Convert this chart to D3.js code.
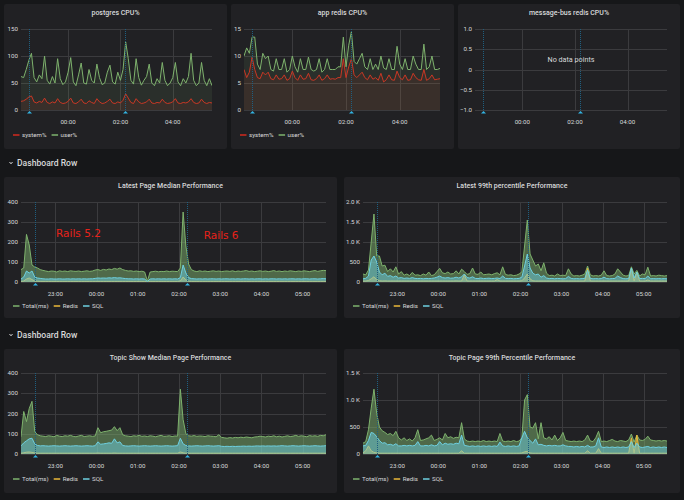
<!DOCTYPE html>
<html>
<head>
<meta charset="utf-8">
<script src="https://cdnjs.cloudflare.com/ajax/libs/d3/7.8.5/d3.min.js"></script>
<style>
  body { margin: 0; background: #161719; }
  svg { display: block; font-family: Roboto, "Open Sans", sans-serif; }
</style>
</head>
<body>
<script>
// time setup
var cpuStart = "2019-08-01T22:12:00Z", cpuStep = 6;
var perfStart = "2019-08-01T22:10:00Z", perfStep = 4;
var cpuDomain = ["2019-08-01T22:12:00Z", "2019-08-02T05:30:00Z"];
var perfDomain = ["2019-08-01T22:10:00Z", "2019-08-02T05:34:00Z"];
var annotations = ["2019-08-01T22:30:00Z", "2019-08-02T02:11:00Z"];

var pgTicks = [0, 50, 100, 150];
var redisTicks = [0, 5, 10, 15];
var busTicks = [-1, -0.5, 0, 0.5, 1];
var medTicks = [0, 100, 200, 300, 400];
var lat99Ticks = [0, 500, 1000, 1500, 2000];
var top99Ticks = [0, 500, 1000, 1500];

var railsLabels = ["Rails 5.2", "Rails 6"];
var railsTimes = ["2019-08-01T23:01:00Z", "2019-08-02T02:36:00Z"];
var railsValues = [226, 213];

// postgres CPU%
var pgSystem = [16, 17, 20, 24, 26, 15, 13, 16, 14, 22,
  14, 12, 15, 13, 21, 14, 12, 13, 16, 22,
  13, 12, 15, 20, 13, 12, 17, 14, 12, 21,
  15, 12, 13, 16, 20, 13, 12, 15, 13, 18,
  30, 22, 14, 12, 21, 15, 12, 13, 15, 20,
  13, 12, 14, 13, 20, 14, 12, 13, 15, 21,
  13, 12, 14, 13, 15, 21, 14, 12, 13, 20,
  14, 12, 14, 13];
var pgUser = [62, 60, 75, 92, 105, 60, 52, 65, 58, 100,
  55, 48, 62, 50, 95, 58, 47, 52, 70, 97,
  52, 45, 65, 87, 50, 48, 75, 55, 50, 85,
  60, 47, 50, 70, 83, 52, 48, 70, 55, 75,
  126, 95, 55, 48, 95, 60, 46, 55, 62, 85,
  50, 45, 58, 50, 88, 55, 45, 50, 60, 88,
  52, 45, 58, 50, 62, 105, 55, 45, 50, 88,
  55, 45, 58, 45];

// app redis CPU%
var redisSystem = [7.5, 6, 7, 9.8, 7.5, 6, 5.8, 7, 6.5, 7,
  5.8, 5.6, 6.5, 5.7, 5.8, 6.5, 5.5, 5.8, 7.2, 6,
  5.5, 6.5, 5.7, 5.8, 6.8, 5.6, 5.5, 5.8, 6.5, 5.5,
  5.8, 6.5, 5.7, 5.8, 5.7, 6, 6, 9.5, 6, 8,
  9.5, 6.5, 6, 6.5, 7, 6, 5.6, 6.5, 5.7, 6,
  5.5, 6.8, 5.2, 5.6, 6.5, 5.6, 5.5, 7.2, 6, 5.6,
  6.5, 5.5, 5.6, 6.8, 6, 5.6, 5.5, 7.5, 5.5, 5.8,
  6.5, 5.6, 5.7, 5.8];
var redisUser = [10, 11.5, 10.5, 13.5, 13.5, 8.5, 7.5, 10.5, 9.5, 10,
  7.5, 7.2, 9.5, 7.5, 7.5, 9.5, 7, 7.5, 10, 8,
  7, 9.5, 7.5, 7.5, 9.8, 7.5, 7.2, 7.5, 9.5, 7,
  7.5, 9.5, 7.5, 7.5, 7.5, 8, 8, 13.5, 8, 12,
  14.5, 9, 8.5, 9.5, 10.5, 8, 7.5, 9.5, 7.5, 8.5,
  7.5, 10, 7.8, 7.5, 9.5, 7.5, 7.5, 11.8, 8.5, 7.5,
  9.5, 7.5, 7.5, 10, 8.5, 7.5, 7.5, 12.2, 7.5, 8,
  10, 7.5, 7.5, 7.7];

// Latest Page Median Performance
var latestMedTotal = [62, 70, 238, 185, 85, 75, 70, 62, 58, 55,
  52, 55, 54, 50, 56, 53, 55, 52, 56, 54,
  53, 55, 52, 54, 56, 53, 55, 60, 62, 58,
  63, 60, 65, 62, 68, 64, 70, 62, 58, 55,
  56, 53, 55, 52, 54, 50, 5, 50, 52, 54,
  51, 53, 52, 55, 52, 54, 53, 52, 70, 350,
  180, 90, 62, 55, 52, 56, 53, 55, 52, 54,
  56, 53, 55, 52, 54, 55, 53, 56, 52, 55,
  53, 55, 57, 53, 55, 52, 54, 56, 53, 55,
  52, 54, 57, 53, 55, 52, 55, 53, 56, 54,
  52, 55, 53, 56, 54, 52, 55, 57, 53, 56,
  58, 57];
var latestMedRedis = [3, 5, 15, 20, 12, 5, 4, 3, 3, 3,
  3, 3, 3, 3, 3, 3, 3, 3, 3, 3,
  3, 3, 3, 3, 3, 3, 3, 3, 3, 3,
  3, 3, 3, 3, 3, 3, 3, 3, 3, 3,
  3, 3, 3, 3, 3, 3, 0, 3, 3, 3,
  3, 3, 3, 3, 3, 3, 3, 3, 5, 25,
  10, 4, 3, 3, 3, 3, 3, 3, 3, 3,
  3, 3, 3, 3, 3, 3, 3, 3, 3, 3,
  3, 3, 3, 3, 3, 3, 3, 3, 3, 3,
  3, 3, 3, 3, 3, 3, 3, 3, 3, 3,
  3, 3, 3, 3, 3, 3, 3, 3, 3, 3,
  3, 3];
var latestMedSql = [15, 25, 55, 45, 55, 25, 20, 18, 16, 15,
  15, 16, 15, 15, 16, 15, 15, 16, 15, 16,
  15, 16, 15, 16, 15, 16, 16, 18, 20, 19,
  20, 19, 21, 20, 22, 20, 21, 19, 17, 16,
  16, 15, 16, 15, 16, 15, 2, 15, 16, 15,
  16, 15, 16, 15, 16, 15, 16, 15, 22, 85,
  45, 22, 17, 16, 15, 16, 15, 16, 15, 16,
  16, 15, 16, 15, 16, 16, 15, 16, 15, 16,
  15, 16, 16, 15, 16, 15, 16, 16, 15, 16,
  15, 16, 16, 15, 16, 15, 16, 15, 16, 16,
  15, 16, 15, 16, 16, 15, 16, 16, 15, 16,
  17, 16];

// Latest 99th percentile Performance
var latest99Total = [200, 180, 300, 1000, 1700, 650, 650, 400, 420, 260,
  330, 250, 380, 200, 260, 170, 200, 160, 240, 170,
  180, 160, 200, 170, 250, 160, 180, 260, 340, 230,
  210, 250, 200, 210, 280, 200, 320, 260, 190, 210,
  350, 200, 190, 250, 180, 190, 200, 180, 210, 230,
  180, 380, 190, 170, 180, 160, 170, 200, 250, 900,
  1550, 700, 550, 400, 450, 280, 480, 220, 160, 170,
  150, 200, 160, 170, 160, 330, 200, 150, 160, 150,
  170, 200, 400, 180, 150, 160, 150, 170, 280, 160,
  150, 160, 200, 330, 250, 170, 150, 160, 380, 200,
  290, 150, 200, 180, 370, 150, 160, 150, 170, 160,
  150, 160];
var latest99Redis = [25, 25, 35, 80, 130, 60, 30, 25, 28, 25,
  25, 25, 25, 25, 25, 25, 25, 25, 25, 25,
  25, 25, 25, 25, 25, 25, 25, 25, 25, 25,
  25, 25, 25, 25, 28, 25, 25, 180, 25, 25,
  25, 25, 25, 25, 25, 25, 25, 25, 25, 60,
  25, 25, 25, 25, 25, 25, 25, 25, 30, 100,
  200, 80, 30, 25, 25, 25, 25, 25, 25, 25,
  25, 25, 25, 25, 25, 25, 25, 25, 25, 25,
  25, 25, 340, 25, 25, 25, 25, 25, 25, 25,
  25, 25, 25, 25, 25, 25, 25, 25, 330, 25,
  250, 25, 25, 25, 50, 25, 25, 25, 25, 25,
  25, 25];
var latest99Sql = [80, 90, 150, 550, 650, 500, 250, 180, 220, 140,
  160, 120, 150, 100, 110, 90, 100, 90, 110, 90,
  85, 90, 80, 90, 85, 90, 100, 120, 150, 110,
  100, 110, 95, 100, 120, 100, 130, 200, 110, 100,
  130, 90, 85, 100, 85, 90, 95, 85, 90, 100,
  85, 150, 90, 85, 90, 80, 85, 90, 120, 400,
  700, 350, 220, 180, 200, 120, 160, 100, 85, 90,
  80, 90, 85, 80, 85, 140, 90, 80, 85, 80,
  85, 90, 300, 90, 80, 85, 80, 85, 120, 85,
  80, 85, 90, 150, 110, 85, 80, 85, 350, 100,
  250, 85, 90, 85, 150, 80, 85, 80, 85, 80,
  85, 80];

// Topic Show Median Page Performance
var topicMedTotal = [85, 210, 160, 225, 260, 110, 95, 90, 88, 86,
  90, 88, 85, 92, 88, 86, 90, 88, 92, 87,
  85, 89, 92, 86, 88, 90, 87, 89, 130, 105,
  110, 112, 115, 118, 135, 115, 130, 95, 90, 88,
  86, 90, 88, 92, 87, 89, 86, 90, 88, 85,
  89, 92, 87, 88, 90, 86, 89, 88, 320, 170,
  100, 90, 88, 91, 87, 89, 88, 86, 90, 88,
  87, 85, 95, 82, 80, 78, 81, 79, 82, 80,
  83, 81, 84, 82, 80, 84, 85, 88, 86, 84,
  88, 86, 90, 85, 88, 84, 87, 90, 86, 88,
  92, 87, 90, 88, 85, 91, 88, 90, 87, 92,
  90, 95];
var topicMedRedis = [4, 6, 9, 10, 8, 5, 4, 4, 4, 4,
  4, 4, 4, 4, 4, 4, 4, 4, 4, 4,
  4, 4, 4, 4, 4, 4, 4, 4, 5, 4,
  4, 4, 4, 4, 5, 4, 4, 4, 4, 4,
  4, 4, 4, 4, 4, 4, 4, 4, 4, 4,
  4, 4, 4, 4, 4, 4, 4, 4, 10, 6,
  4, 4, 4, 4, 4, 4, 4, 4, 4, 4,
  4, 4, 4, 4, 4, 4, 4, 4, 4, 4,
  4, 4, 4, 4, 4, 4, 4, 4, 4, 4,
  4, 4, 4, 4, 4, 4, 4, 4, 4, 4,
  4, 4, 4, 4, 4, 4, 4, 4, 4, 4,
  4, 4];
var topicMedSql = [40, 55, 65, 75, 78, 50, 42, 40, 41, 40,
  39, 40, 41, 40, 39, 40, 41, 40, 39, 40,
  41, 40, 39, 40, 41, 40, 39, 41, 60, 48,
  50, 52, 55, 53, 75, 55, 60, 42, 40, 39,
  40, 41, 40, 39, 40, 41, 40, 39, 40, 41,
  40, 39, 40, 41, 40, 39, 40, 41, 78, 50,
  42, 40, 39, 40, 41, 40, 39, 40, 41, 40,
  39, 40, 41, 38, 37, 38, 37, 38, 37, 38,
  38, 39, 38, 39, 38, 39, 40, 39, 40, 39,
  40, 39, 40, 39, 40, 41, 40, 39, 40, 41,
  40, 39, 40, 41, 40, 39, 40, 41, 40, 39,
  40, 41];

// Topic Page 99th Percentile Performance
var topic99Total = [200, 230, 450, 850, 1200, 750, 500, 430, 400, 360,
  380, 340, 420, 300, 260, 300, 250, 280, 240, 300,
  450, 250, 260, 280, 300, 350, 250, 270, 300, 260,
  380, 300, 320, 290, 310, 300, 580, 280, 240, 230,
  240, 230, 240, 230, 250, 230, 240, 230, 240, 230,
  380, 240, 230, 240, 230, 250, 230, 240, 300, 1000,
  1100, 500, 480, 580, 280, 580, 300, 280, 320, 260,
  350, 250, 300, 400, 250, 240, 230, 240, 230, 240,
  230, 260, 350, 240, 230, 300, 420, 230, 240, 230,
  250, 270, 240, 230, 250, 240, 230, 260, 370, 220,
  350, 260, 250, 270, 330, 260, 250, 240, 250, 240,
  250, 240];
var topic99Redis = [20, 60, 150, 60, 30, 20, 15, 15, 15, 15,
  15, 15, 15, 15, 15, 15, 15, 15, 15, 15,
  15, 15, 15, 15, 15, 15, 15, 15, 15, 15,
  15, 15, 15, 15, 15, 15, 60, 15, 15, 15,
  15, 15, 15, 15, 15, 15, 15, 15, 15, 15,
  15, 15, 15, 15, 15, 15, 15, 15, 20, 40,
  50, 20, 15, 15, 15, 15, 15, 15, 15, 15,
  15, 15, 15, 15, 15, 15, 15, 15, 15, 15,
  15, 15, 60, 15, 15, 15, 100, 15, 15, 15,
  15, 15, 15, 15, 15, 15, 15, 15, 300, 15,
  350, 15, 15, 15, 15, 15, 15, 15, 15, 15,
  15, 15];
var topic99Sql = [150, 160, 250, 400, 380, 320, 250, 200, 210, 170,
  180, 160, 190, 150, 150, 160, 150, 160, 150, 160,
  230, 150, 150, 160, 150, 170, 150, 160, 230, 170,
  200, 180, 190, 180, 200, 190, 350, 160, 150, 140,
  150, 140, 150, 140, 150, 140, 150, 140, 150, 140,
  220, 150, 140, 150, 140, 150, 140, 150, 300, 420,
  300, 250, 200, 280, 170, 180, 160, 150, 160, 150,
  160, 150, 150, 170, 150, 140, 140, 130, 140, 130,
  140, 130, 160, 130, 130, 150, 300, 130, 120, 130,
  120, 130, 120, 130, 120, 130, 120, 130, 230, 120,
  200, 130, 120, 130, 140, 120, 130, 120, 130, 120,
  130, 120];

var GREEN = "#7EB26D", YELLOW = "#EAB839", CYAN = "#6ED0E0", RED = "#D22A1E";
var TEXT = "#d8d9da";

var svg = d3.select("body").append("svg")
  .attr("width", 684)
  .attr("height", 500);

svg.append("rect").attr("width", 684).attr("height", 500).attr("fill", "#161719");

function toPoints(start, step, values) {
  var t0 = new Date(start).getTime();
  return values.map(function (v, i) {
    return { t: new Date(t0 + i * step * 60000), v: v };
  });
}

var clipId = 0;

function drawPanel(p) {
  var g = svg.append("g");
  g.append("rect")
    .attr("x", p.x).attr("y", p.y)
    .attr("width", p.w).attr("height", p.h)
    .attr("rx", 2)
    .attr("fill", "#212124");

  g.append("text")
    .attr("x", p.x + p.w / 2)
    .attr("y", p.y + 8.5)
    .attr("text-anchor", "middle")
    .attr("dominant-baseline", "central")
    .style("font-size", "7px")
    .style("font-weight", 500)
    .style("fill", TEXT)
    .text(p.title);

  var x = d3.scaleUtc()
    .domain(p.domain.map(function (d) { return new Date(d); }))
    .range([p.l, p.r]);
  var y = d3.scaleLinear()
    .domain([p.yTicks[0], p.yTicks[p.yTicks.length - 1]])
    .range([p.b, p.t]);
  var xTicks = x.ticks(d3.utcHour.every(p.hours));

  // grid
  g.selectAll(null).data(p.yTicks).enter().append("line")
    .attr("x1", p.l).attr("x2", p.r)
    .attr("y1", function (d) { return Math.round(y(d)) + 0.5; })
    .attr("y2", function (d) { return Math.round(y(d)) + 0.5; })
    .attr("stroke", "#3b3b3e").attr("stroke-width", 1);
  g.selectAll(null).data(xTicks).enter().append("line")
    .attr("x1", function (d) { return Math.round(x(d)) + 0.5; })
    .attr("x2", function (d) { return Math.round(x(d)) + 0.5; })
    .attr("y1", p.t).attr("y2", p.b)
    .attr("stroke", "#3b3b3e").attr("stroke-width", 1);

  g.selectAll(null).data(p.yTicks).enter().append("text")
    .attr("x", p.l - 3)
    .attr("y", function (d) { return y(d); })
    .attr("text-anchor", "end")
    .attr("dominant-baseline", "central")
    .style("font-size", "6.2px")
    .style("fill", TEXT)
    .text(p.yFmt);
  g.selectAll(null).data(xTicks).enter().append("text")
    .attr("x", function (d) { return x(d); })
    .attr("y", p.b + 11.5)
    .attr("text-anchor", "middle")
    .attr("dominant-baseline", "central")
    .style("font-size", "6.2px")
    .style("fill", TEXT)
    .text(d3.utcFormat("%H:%M"));

  // series
  var cid = "clip" + (clipId++);
  g.append("clipPath").attr("id", cid).append("rect")
    .attr("x", p.l).attr("y", p.t).attr("width", p.r - p.l).attr("height", p.b - p.t);
  var plot = g.append("g").attr("clip-path", "url(#" + cid + ")");
  var area = d3.area()
    .x(function (d) { return x(d.t); })
    .y0(y(Math.max(0, p.yTicks[0])))
    .y1(function (d) { return y(d.v); });
  var line = d3.line()
    .x(function (d) { return x(d.t); })
    .y(function (d) { return y(d.v); });
  p.series.forEach(function (s) {
    var pts = toPoints(p.start, p.step, s.values);
    plot.append("path").attr("d", area(pts))
      .attr("fill", s.color).attr("fill-opacity", p.fill);
    plot.append("path").attr("d", line(pts))
      .attr("fill", "none").attr("stroke", s.color).attr("stroke-width", 1);
  });

  // annotations
  annotations.forEach(function (a) {
    var ax = Math.round(x(new Date(a))) + 0.5;
    g.append("line")
      .attr("x1", ax).attr("x2", ax)
      .attr("y1", p.t).attr("y2", p.b)
      .attr("stroke", "#1f5f80").attr("stroke-width", 1)
      .attr("stroke-dasharray", "1,1");
    g.append("path")
      .attr("d", "M" + (ax - 2.5) + "," + (p.b + 3.5) + "L" + ax + "," + (p.b + 1) + "L" + (ax + 2.5) + "," + (p.b + 3.5) + "Z")
      .attr("fill", "#33B5E5");
  });

  if (p.series.length === 0) {
    g.append("text")
      .attr("x", (p.l + p.r) / 2)
      .attr("y", p.t + 30)
      .attr("text-anchor", "middle")
      .attr("dominant-baseline", "central")
      .style("font-size", "7.2px")
      .style("fill", TEXT)
      .text("No data points");
  }

  // legend
  var cx = p.x + 9;
  p.series.forEach(function (s) {
    g.append("rect")
      .attr("x", cx).attr("y", p.legendY - 0.75)
      .attr("width", 6.5).attr("height", 1.5)
      .attr("fill", s.color);
    var t = g.append("text")
      .attr("x", cx + 9).attr("y", p.legendY)
      .attr("dominant-baseline", "central")
      .style("font-size", "6.2px")
      .style("fill", TEXT)
      .text(s.name);
    cx += 9 + t.node().getComputedTextLength() + 5;
  });

  return { x: x, y: y, g: g };
}

function rowHeader(yc) {
  svg.append("path")
    .attr("d", "M9.5," + (yc - 1) + "L11,"  + (yc + 0.8) + "L12.5," + (yc - 1))
    .attr("fill", "none").attr("stroke", TEXT).attr("stroke-width", 1);
  svg.append("text")
    .attr("x", 17).attr("y", yc)
    .attr("dominant-baseline", "central")
    .style("font-size", "8.6px")
    .style("font-weight", 500)
    .style("fill", TEXT)
    .text("Dashboard Row");
}

function fmtPlain(d) { return d; }
function fmtOne(d) { return d === 0 ? "0" : d3.format(".1f")(d); }
function fmtK(d) { return d >= 1000 ? d3.format(".1f")(d / 1000) + " K" : d; }

var cpuBase = { domain: cpuDomain, start: cpuStart, step: cpuStep, hours: 2, fill: 0.1, t: 29, b: 110, y: 4, h: 145, legendY: 135 };

drawPanel(Object.assign({}, cpuBase, {
  x: 4, w: 223, l: 21, r: 212, title: "postgres CPU%",
  yTicks: pgTicks, yFmt: fmtPlain,
  series: [
    { name: "system%", color: RED, values: pgSystem },
    { name: "user%", color: GREEN, values: pgUser }
  ]
}));
drawPanel(Object.assign({}, cpuBase, {
  x: 231, w: 223, l: 244, r: 440, title: "app redis CPU%",
  yTicks: redisTicks, yFmt: fmtPlain,
  series: [
    { name: "system%", color: RED, values: redisSystem },
    { name: "user%", color: GREEN, values: redisUser }
  ]
}));
drawPanel(Object.assign({}, cpuBase, {
  x: 458, w: 222, l: 475, r: 667, title: "message-bus redis CPU%",
  yTicks: busTicks, yFmt: fmtOne,
  series: []
}));

rowHeader(163);

var perfBase = { domain: perfDomain, start: perfStart, step: perfStep, hours: 1, fill: 0.5 };

var med = drawPanel(Object.assign({}, perfBase, {
  x: 4, y: 177, w: 333, h: 141, l: 21, r: 326, t: 202, b: 282, legendY: 306,
  title: "Latest Page Median Performance",
  yTicks: medTicks, yFmt: fmtPlain,
  series: [
    { name: "Total(ms)", color: GREEN, values: latestMedTotal },
    { name: "Redis", color: YELLOW, values: latestMedRedis },
    { name: "SQL", color: CYAN, values: latestMedSql }
  ]
}));
railsLabels.forEach(function (label, i) {
  med.g.append("text")
    .attr("x", med.x(new Date(railsTimes[i])))
    .attr("y", med.y(railsValues[i]))
    .style("font-family", "'DejaVu Sans', sans-serif")
    .style("font-size", "10.5px")
    .style("fill", "#e8221a")
    .text(label);
});

drawPanel(Object.assign({}, perfBase, {
  x: 344, y: 177, w: 336, h: 141, l: 363, r: 667, t: 202, b: 282, legendY: 306,
  title: "Latest 99th percentile Performance",
  yTicks: lat99Ticks, yFmt: fmtK,
  series: [
    { name: "Total(ms)", color: GREEN, values: latest99Total },
    { name: "Redis", color: YELLOW, values: latest99Redis },
    { name: "SQL", color: CYAN, values: latest99Sql }
  ]
}));

rowHeader(335);

drawPanel(Object.assign({}, perfBase, {
  x: 4, y: 349, w: 333, h: 144, l: 21, r: 326, t: 373, b: 454, legendY: 479,
  title: "Topic Show Median Page Performance",
  yTicks: medTicks, yFmt: fmtPlain,
  series: [
    { name: "Total(ms)", color: GREEN, values: topicMedTotal },
    { name: "Redis", color: YELLOW, values: topicMedRedis },
    { name: "SQL", color: CYAN, values: topicMedSql }
  ]
}));
drawPanel(Object.assign({}, perfBase, {
  x: 344, y: 349, w: 336, h: 144, l: 363, r: 667, t: 373, b: 454, legendY: 479,
  title: "Topic Page 99th Percentile Performance",
  yTicks: top99Ticks, yFmt: fmtK,
  series: [
    { name: "Total(ms)", color: GREEN, values: topic99Total },
    { name: "Redis", color: YELLOW, values: topic99Redis },
    { name: "SQL", color: CYAN, values: topic99Sql }
  ]
}));
</script>
</body>
</html>
